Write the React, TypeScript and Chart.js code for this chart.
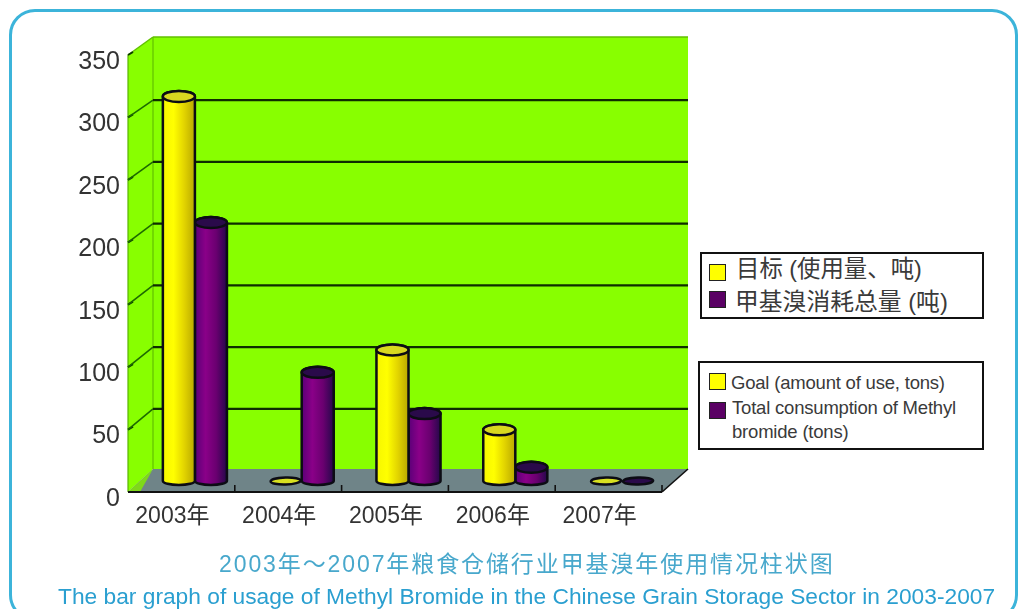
import React, { useEffect, useRef } from "react";
import { Chart, registerables } from "chart.js";

Chart.register(...registerables);

const categories = ["2003年", "2004年", "2005年", "2006年", "2007年"];
const goalValues = [308, 0, 105, 41, 0];
const totalValues = [207, 87, 54, 11, 0];
const goalName = "目标 (使用量、吨)";
const totalName = "甲基溴消耗总量 (吨)";
const goalNameEn = "Goal (amount of use, tons)";
const totalNameEn = ["Total consumption of Methyl", "bromide (tons)"];
const titleZh = "2003年～2007年粮食仓储行业甲基溴年使用情况柱状图";
const titleEn = "The bar graph of usage of Methyl Bromide in the Chinese Grain Storage Sector in 2003-2007";

const FONT = "'Liberation Sans','Noto Sans CJK SC',sans-serif";
const W = 1020;
const H = 609;
const AREA = { left: 128, right: 662, top: 55, bottom: 492 };
const BACK = { left: 153, right: 688, top: 37, bottom: 469 };
const BAR_SHIFT = { x: 13.5, y: -11 };
const CAP_RY = 5.5;

const palettes: Record<number, { stops: string[]; cap: string }> = {
  0: { stops: ["#f6f600", "#ffff00", "#e2d400", "#b8a800"], cap: "#d8d820" },
  1: { stops: ["#5a0078", "#8a0088", "#6a0070", "#24084a"], cap: "#2a0a4a" },
};

const wallPlugin = {
  id: "walls",
  beforeDatasetsDraw(chart: any) {
    const { ctx, scales } = chart;
    const y = scales.y;
    const x = scales.x;
    const poly = (pts: number[][], fill: string) => {
      ctx.beginPath();
      pts.forEach((p, i) => (i ? ctx.lineTo(p[0], p[1]) : ctx.moveTo(p[0], p[1])));
      ctx.closePath();
      ctx.fillStyle = fill;
      ctx.fill();
    };
    const line = (a: number[], b: number[], color: string, w: number) => {
      ctx.beginPath();
      ctx.moveTo(a[0], a[1]);
      ctx.lineTo(b[0], b[1]);
      ctx.strokeStyle = color;
      ctx.lineWidth = w;
      ctx.stroke();
    };
    const { left, right, top, bottom } = chart.chartArea;
    ctx.save();
    poly([[left, top], [BACK.left, BACK.top], [BACK.right, BACK.top], [BACK.right, BACK.bottom], [BACK.left, BACK.bottom], [left, bottom]], "#88ff00");
    poly([[left, bottom], [BACK.left, BACK.bottom], [BACK.right, BACK.bottom], [right, bottom]], "#6f8488");
    poly([[left, bottom], [BACK.left, BACK.bottom], [left + 12, bottom]], "#7fd81a");
    line([left, top], [left, bottom], "#58b400", 1.2);
    line([BACK.left, BACK.top], [BACK.left, BACK.bottom], "#62c000", 1.2);
    line([left, top], [BACK.left, BACK.top], "#62c000", 1.5);
    line([BACK.left, BACK.top], [BACK.right, BACK.top], "#62c000", 1.5);
    const ratio = (BACK.bottom - BACK.top) / (bottom - top);
    y.ticks.forEach((t: any) => {
      if (t.value === 0) return;
      const fy = y.getPixelForValue(t.value);
      const by = BACK.bottom + (fy - bottom) * ratio + 1.5;
      line([left, fy], [left + 5, fy - 3], "#0c3a00", 2);
      if (t.value === y.max) return;
      line([left, fy], [BACK.left, by], "#1d6a00", 1.6);
      line([BACK.left, by], [BACK.right, by], "#0f2c00", 2.2);
    });
    const step = (right - left) / categories.length;
    categories.forEach((_, i) => {
      if (i === 0) return;
      const tx = x.getPixelForValue(i) - step / 2;
      line([tx, bottom], [tx, bottom - 7], "#111", 1.6);
    });
    line([right, bottom], [right, bottom - 7], "#111", 1.6);
    line([left, bottom], [right, bottom], "#111", 2);
    line([right, bottom], [BACK.right, BACK.bottom], "#111", 1.6);
    ctx.restore();
  },
};

const cylinderPlugin = {
  id: "cylinders",
  beforeDatasetDraw(chart: any, args: any) {
    const { ctx } = chart;
    const meta = chart.getDatasetMeta(args.index);
    const pal = palettes[args.index];
    ctx.save();
    ctx.translate(BAR_SHIFT.x, BAR_SHIFT.y);
    meta.data.forEach((el: any) => {
      const { x, y, base, width } = el.getProps(["x", "y", "base", "width"], true);
      const rx = width / 2;
      const l = x - rx;
      const r = x + rx;
      const grad = ctx.createLinearGradient(l, 0, r, 0);
      pal.stops.forEach((c, i) => grad.addColorStop(i / (pal.stops.length - 1), c));
      ctx.lineWidth = 2.5;
      ctx.strokeStyle = "#0c0c14";
      if (Math.abs(base - y) < 1) {
        ctx.beginPath();
        ctx.ellipse(x, base, rx - 1, 3.5, -0.03, 0, Math.PI * 2);
        ctx.fillStyle = args.index === 0 ? "#d8e020" : "#2a0a4a";
        ctx.fill();
        ctx.stroke();
        return;
      }
      ctx.beginPath();
      ctx.moveTo(l, y);
      ctx.lineTo(l, base);
      ctx.ellipse(x, base, rx, CAP_RY - 1.5, 0, Math.PI, 0, true);
      ctx.lineTo(r, y);
      ctx.ellipse(x, y, rx, CAP_RY, 0, 0, Math.PI, true);
      ctx.closePath();
      ctx.fillStyle = grad;
      ctx.fill();
      ctx.stroke();
      ctx.beginPath();
      ctx.ellipse(x, y, rx, CAP_RY, 0, 0, Math.PI * 2);
      ctx.fillStyle = pal.cap;
      ctx.fill();
      ctx.stroke();
    });
    ctx.restore();
    return false;
  },
};

const swatch = (left: number, top: number, size: number, color: string): React.CSSProperties => ({
  position: "absolute",
  left,
  top,
  width: size,
  height: size,
  background: color,
  border: "1.5px solid #222",
  boxSizing: "border-box",
});

const text = (left: number, top: number, size: number, extra?: React.CSSProperties): React.CSSProperties => ({
  position: "absolute",
  left,
  top,
  fontSize: size,
  lineHeight: 1,
  whiteSpace: "nowrap",
  color: "#3a3a3a",
  fontFamily: FONT,
  ...extra,
});

const box = (left: number, top: number, w: number, h: number): React.CSSProperties => ({
  position: "absolute",
  left,
  top,
  width: w,
  height: h,
  border: "2.5px solid #111",
  boxSizing: "border-box",
  background: "#fff",
});

export default function App() {
  const ref = useRef<HTMLCanvasElement>(null);
  useEffect(() => {
    document.body.style.margin = "0";
    const chart = new Chart(ref.current as HTMLCanvasElement, {
      type: "bar",
      data: {
        labels: categories,
        datasets: [
          { label: goalName, data: goalValues, backgroundColor: "#ffff00" },
          { label: totalName, data: totalValues, backgroundColor: "#800080" },
        ],
      },
      plugins: [wallPlugin, cylinderPlugin],
      options: {
        responsive: false,
        animation: false,
        events: [],
        layout: { padding: { left: 0, top: AREA.top, right: W - AREA.right, bottom: 0 } },
        datasets: { bar: { categoryPercentage: 0.6, barPercentage: 1 } },
        plugins: { legend: { display: false }, title: { display: false }, tooltip: { enabled: false } },
        scales: {
          x: {
            grid: { display: false, drawTicks: false },
            border: { display: false },
            afterFit: (s: any) => {
              s.height = H - AREA.bottom;
            },
            ticks: {
              autoSkip: false,
              maxRotation: 0,
              padding: 11,
              labelOffset: -9,
              color: "#333",
              font: { family: FONT, size: 23 },
            },
          },
          y: {
            min: 0,
            max: 350,
            grid: { display: false, drawTicks: false },
            border: { display: false },
            afterFit: (s: any) => {
              s.width = AREA.left;
            },
            ticks: {
              stepSize: 50,
              padding: 8,
              labelOffset: 7,
              color: "#333",
              font: { family: FONT, size: 25 },
            },
          },
        },
      } as any,
    });
    return () => chart.destroy();
  }, []);

  return (
    <div style={{ position: "relative", width: W, height: H, overflow: "hidden", background: "#fff" }}>
      <div
        style={{
          position: "absolute",
          left: 9,
          top: 9,
          width: 1009,
          height: 612,
          border: "3px solid #3cb4da",
          borderRadius: 26,
          boxSizing: "border-box",
        }}
      />
      <canvas ref={ref} width={W} height={H} style={{ position: "absolute", left: 0, top: 0, width: W, height: H }} />

      <div style={box(700, 252, 284, 67)} />
      <div style={swatch(709, 264, 17, "#ffff00")} />
      <div style={swatch(709, 291, 17, "#5a0064")} />
      <div style={text(736, 258, 23.4)}>{goalName}</div>
      <div style={text(735, 290, 23.8)}>{totalName}</div>

      <div style={box(698, 361, 286, 89)} />
      <div style={swatch(709, 373, 17, "#ffff00")} />
      <div style={swatch(709, 402, 17, "#5a0064")} />
      <div style={text(731, 374, 18.5, { letterSpacing: -0.2 })}>{goalNameEn}</div>
      <div style={text(732, 399, 18.5, { letterSpacing: -0.2 })}>{totalNameEn[0]}</div>
      <div style={text(732, 423, 18.5, { letterSpacing: -0.2 })}>{totalNameEn[1]}</div>

      <div style={text(219, 553, 23, { color: "#48a8cc", letterSpacing: 1.9 })}>{titleZh}</div>
      <div style={text(58, 585, 22.75, { color: "#2a9fd0" })}>{titleEn}</div>
    </div>
  );
}
